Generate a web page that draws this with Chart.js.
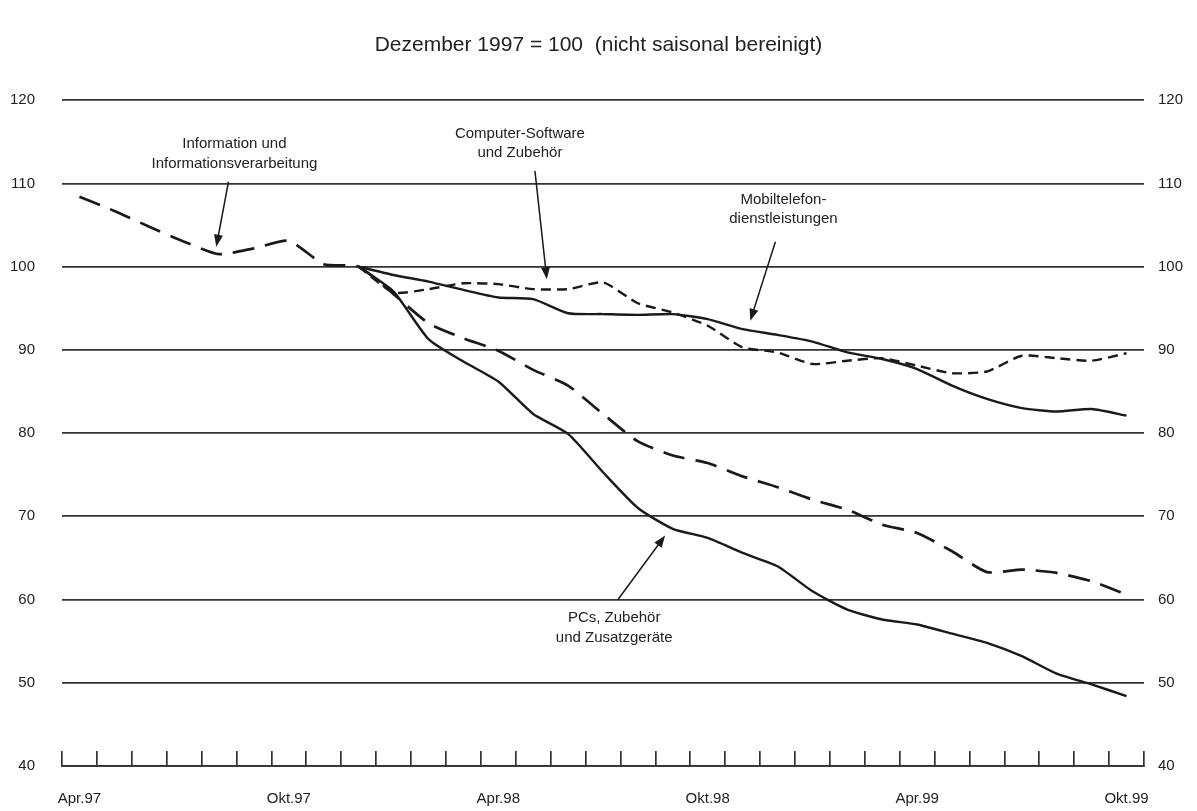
<!DOCTYPE html>
<html><head><meta charset="utf-8">
<script src="https://cdn.jsdelivr.net/npm/chart.js@4"></script>
<style>html,body{margin:0;padding:0;background:#fff;}</style>
</head><body>
<canvas id="c" width="1197" height="811"></canvas>
<script>
// ---- data ----
const months = ["Apr.97","Mai.97","Jun.97","Jul.97","Aug.97","Sep.97","Okt.97","Nov.97","Dez.97",
  "Jan.98","Feb.98","Mär.98","Apr.98","Mai.98","Jun.98","Jul.98","Aug.98","Sep.98","Okt.98","Nov.98","Dez.98",
  "Jan.99","Feb.99","Mär.99","Apr.99","Mai.99","Jun.99","Jul.99","Aug.99","Sep.99","Okt.99"];
const shownLabels = ["Apr.97","Okt.97","Apr.98","Okt.98","Apr.99","Okt.99"];
const yTicks = [40,50,60,70,80,90,100,110,120];

const infoSeries = [108.4,106.7,104.8,103.0,101.5,102.2,103.1,100.3,100.0,96.7,93.2,91.4,89.9,87.6,85.7,82.3,
  79.0,77.3,76.4,74.8,73.5,72.0,70.8,69.0,68.0,65.8,63.3,63.6,63.2,62.2,60.6];
const pcSeries = [null,null,null,null,null,null,null,null,100.0,97.0,91.3,88.6,86.2,82.3,79.9,75.3,
  71.0,68.5,67.4,65.6,64.0,61.0,58.8,57.6,57.0,55.9,54.8,53.2,51.1,49.8,48.4];
const mobilSeries = [null,null,null,null,null,null,null,null,100.0,99.0,98.2,97.2,96.3,96.1,94.4,94.3,
  94.2,94.3,93.7,92.5,91.8,91.0,89.7,88.9,87.7,85.7,84.1,83.0,82.6,82.9,82.1];
const softwareSeries = [null,null,null,null,null,null,null,null,100.0,96.9,97.3,98.0,97.9,97.3,97.3,98.1,
  95.6,94.5,92.9,90.3,89.7,88.3,88.7,89.0,88.1,87.2,87.4,89.3,89.0,88.7,89.6];

const titleText = "Dezember 1997 = 100  (nicht saisonal bereinigt)";

// annotation texts with anchor (month index, index value) and arrow (from -> to)
const notes = [
  {lines:["Information und","Informationsverarbeitung"], at:[4.44,114.7], dy:20, from:[4.27,110.2], to:[3.92,102.4]},
  {lines:["Computer-Software","und Zubehör"], at:[12.62,115.9], dy:19, from:[13.05,111.5], to:[13.39,98.5]},
  {lines:["Mobiltelefon-","dienstleistungen"], at:[20.17,108.0], dy:19, from:[19.94,103.0], to:[19.22,93.5]},
  {lines:["PCs, Zubehör","und Zusatzgeräte"], at:[15.32,57.8], dy:20, from:[15.43,60.0], to:[16.78,67.7]}
];

const FONT = '"Liberation Sans", Arial, Helvetica, sans-serif';
const INK = '#1a1a1a';

const notesPlugin = {
  id:'notes',
  afterDatasetsDraw(chart){
    const ctx = chart.ctx, xs = chart.scales.x, ys = chart.scales.y;
    ctx.save();
    ctx.fillStyle = '#222'; ctx.strokeStyle = INK;
    ctx.font = '15px ' + FONT;
    ctx.textAlign = 'center'; ctx.textBaseline = 'middle';
    notes.forEach(n => {
      const x = xs.getPixelForValue(n.at[0]);
      const y = ys.getPixelForValue(n.at[1]);
      n.lines.forEach((t,i) => ctx.fillText(t, x, y + i*n.dy));
      const x1 = xs.getPixelForValue(n.from[0]), y1 = ys.getPixelForValue(n.from[1]);
      const x2 = xs.getPixelForValue(n.to[0]), y2 = ys.getPixelForValue(n.to[1]);
      const ang = Math.atan2(y2-y1, x2-x1);
      const L = 12, W = 4.5;
      ctx.lineWidth = 1.5;
      ctx.beginPath(); ctx.moveTo(x1,y1);
      ctx.lineTo(x2 - Math.cos(ang)*L*0.8, y2 - Math.sin(ang)*L*0.8); ctx.stroke();
      ctx.beginPath();
      ctx.moveTo(x2,y2);
      ctx.lineTo(x2 - Math.cos(ang)*L + Math.sin(ang)*W, y2 - Math.sin(ang)*L - Math.cos(ang)*W);
      ctx.lineTo(x2 - Math.cos(ang)*L - Math.sin(ang)*W, y2 - Math.sin(ang)*L + Math.cos(ang)*W);
      ctx.closePath(); ctx.fillStyle = INK; ctx.fill(); ctx.fillStyle = '#222';
    });
    ctx.restore();
  }
};

const common = {pointRadius:0, borderColor:INK, fill:false, tension:0.2, borderCapStyle:'butt', borderJoinStyle:'round'};

new Chart(document.getElementById('c'), {
  type:'line',
  data:{
    labels: months,
    datasets:[
      Object.assign({label:'Information und Informationsverarbeitung', data:infoSeries, borderWidth:2.7, borderDash:[22,11]}, common),
      Object.assign({label:'Computer-Software und Zubehör', data:softwareSeries, borderWidth:2.4, borderDash:[10,6]}, common),
      Object.assign({label:'Mobiltelefondienstleistungen', data:mobilSeries, borderWidth:2.4}, common),
      Object.assign({label:'PCs, Zubehör und Zusatzgeräte', data:pcSeries, borderWidth:2.4}, common)
    ]
  },
  options:{
    responsive:false, animation:false, devicePixelRatio:1,
    layout:{padding:0},
    plugins:{
      legend:{display:false}, tooltip:{enabled:false},
      title:{display:true, text:titleText, color:'#222', font:{family:FONT, size:21, weight:'normal'}, padding:{top:33, bottom:42}}
    },
    scales:{
      x:{
        type:'category', offset:true,
        grid:{offset:true, drawOnChartArea:false, drawTicks:true, tickLength:-15, color:'#333', lineWidth:1.7},
        border:{display:true, color:'#333', width:1.7},
        ticks:{autoSkip:false, maxRotation:0, minRotation:0, padding:39, color:'#222', font:{family:FONT, size:15},
          callback:(v,i)=> shownLabels.includes(months[i]) ? months[i] : ''},
        afterFit:s=>{s.height = 45;}
      },
      y:{
        position:'left', min:yTicks[0], max:yTicks[yTicks.length-1],
        afterBuildTicks:s=>{s.ticks = yTicks.map(v=>({value:v}));},
        ticks:{padding:27, color:'#222', font:{family:FONT, size:15}},
        grid:{drawTicks:false, color:'#333', lineWidth:1.7},
        border:{display:false},
        afterFit:s=>{s.width = 62;}
      },
      y2:{
        position:'right', min:yTicks[0], max:yTicks[yTicks.length-1],
        afterBuildTicks:s=>{s.ticks = yTicks.map(v=>({value:v}));},
        ticks:{padding:14, color:'#222', font:{family:FONT, size:15}},
        grid:{display:false, drawTicks:false}, border:{display:false},
        afterFit:s=>{s.width = 53;}
      }
    }
  },
  plugins:[notesPlugin]
});
</script>
</body></html>
